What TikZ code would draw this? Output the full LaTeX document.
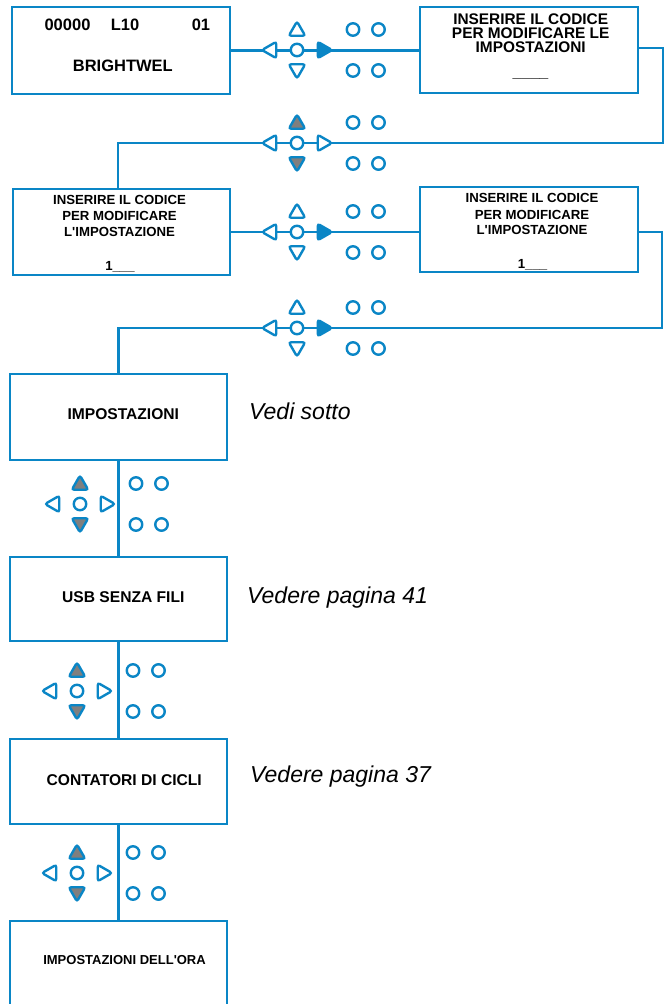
\documentclass[tikz,border=0pt]{standalone}
\usepackage{fontspec}
\setmainfont{Liberation Sans}[Ligatures=TeXOff]
\usetikzlibrary{shapes.geometric}
\definecolor{kblue}{HTML}{0A86C6}
\definecolor{kgray}{HTML}{7F7F7F}
\tikzset{
  box/.style={draw=kblue, line width=2.7pt, rectangle, inner sep=0pt, fill=white},
  wire/.style={draw=kblue, line width=2.8pt},
  keyc/.style={draw=kblue, line width=2.4pt, circle, minimum size=12.5pt, inner sep=0pt, fill=white},
  keytri/.style={draw=kblue, line width=2.4pt, regular polygon, regular polygon sides=3,
     minimum size=19pt, inner sep=0pt, rounded corners=2.5pt},
  txt/.style={inner sep=0pt, anchor=base, text=black},
  big/.style={txt, font=\bfseries\fontsize{16.5}{16.5}\selectfont},
  mid/.style={inner sep=0pt, anchor=north, text=black, align=center, font=\bfseries\fontsize{15.4}{13.9}\selectfont},
  midl/.style={txt, font=\bfseries\fontsize{16}{14}\selectfont},
  sml/.style={txt, font=\bfseries\fontsize{13.2}{16}\selectfont},
  lab/.style={txt, font=\bfseries\fontsize{15.6}{16}\selectfont},
  tiny/.style={txt, font=\bfseries\fontsize{13}{16}\selectfont},
  note/.style={inner sep=0pt, anchor=base west, text=black, font=\itshape\fontsize{23}{24}\selectfont},
  pics/keypad/.style n args={3}{code={
    \node[keytri, shape border rotate=0, fill=#1] (-up) at (0,-19) {};
    \node[keytri, shape border rotate=180, fill=#1] (-dn) at (0,19) {};
    \node[keytri, shape border rotate=90, fill=#2] (-lt) at (-25.5,0) {};
    \node[keytri, shape border rotate=-90, fill=#3] (-rt) at (25.5,0) {};
    \node[keyc] (-c) at (0,0) {};
    \node[keyc] (-s1) at (56,-20.5) {};
    \node[keyc] (-s2) at (81.5,-20.5) {};
    \node[keyc] (-s3) at (56,20.5) {};
    \node[keyc] (-s4) at (81.5,20.5) {};
  }}
}
\begin{document}
\begin{tikzpicture}[x=1pt, y=-1pt]
\useasboundingbox (0,0) rectangle (667,1004);
\clip (0,0) rectangle (667,1004);
% boxes
\node[box, minimum width=218pt, minimum height=87pt] (b1) at (121,50.5) {};
\node[box, minimum width=218pt, minimum height=86pt] (b2) at (529,50) {};
\node[box, minimum width=217pt, minimum height=86pt] (b3) at (121.5,232) {};
\node[box, minimum width=218pt, minimum height=85pt] (b4) at (529,229.5) {};
\node[box, minimum width=217pt, minimum height=86pt] (b5) at (118.5,417) {};
\node[box, minimum width=217pt, minimum height=84pt] (b6) at (118.5,599) {};
\node[box, minimum width=217pt, minimum height=85pt] (b7) at (118.5,781.5) {};
\node[box, minimum width=217pt, minimum height=94pt] (b8) at (118.5,968) {};
% connector coordinates
\coordinate (r2) at (663,143);
\coordinate (j3) at (118,143);
\coordinate (r4) at (662,328);
\coordinate (j5) at (118.5,328);
% connectors
\draw[wire] (b1.east) -- (b1.east -| b2.west);
\draw[wire] ([yshift=2pt]b2.east) -| (r2) -- (j3) -- (j3 |- b3.north);
\draw[wire] (b3.east) -- (b3.east -| b4.west);
\draw[wire] ([yshift=-2.5pt]b4.east) -| (r4) -- (j5) -- (b5.north);
\draw[wire] (b5.south) -- (b6.north);
\draw[wire] (b6.south) -- (b7.north);
\draw[wire] (b7.south) -- (b8.north);
% keypads
\pic (k1) at (297,50) {keypad={white}{white}{kblue}};
\pic (k2) at (297,143) {keypad={kgray}{white}{white}};
\pic (k3) at (297,232) {keypad={white}{white}{kblue}};
\pic (k4) at (297,328) {keypad={white}{white}{kblue}};
\pic (k5) at (80,504) {keypad={kgray}{white}{white}};
\pic (k6) at (77,691) {keypad={kgray}{white}{white}};
\pic (k7) at (77,873) {keypad={kgray}{white}{white}};
% texts box 1
\node[big] (t1a) at (67.5,30.7) {00000};
\node[big] (t1b) at (125,30.7) {L10};
\node[big] (t1c) at (201,30.7) {01};
\node[big] (t1d) at (122.8,71.7) {BRIGHTWEL};
% box 2
\node[mid] (t2a) at (530.7,14) {INSERIRE IL CODICE\\PER MODIFICARE LE\\IMPOSTAZIONI};
\node[midl] (t2d) at (530.5,77.5) {\_\_\_\_};
% box 3
\node[sml] (t3a) at (119.5,204.3) {INSERIRE IL CODICE};
\node[sml] (t3b) at (119.5,220.7) {PER MODIFICARE};
\node[sml] (t3c) at (119.5,236.7) {L'IMPOSTAZIONE};
\node[sml] (t3d) at (120,270.7) {1\_\_\_};
% box 4
\node[sml] (t4a) at (532,202.3) {INSERIRE IL CODICE};
\node[sml] (t4b) at (532,219) {PER MODIFICARE};
\node[sml] (t4c) at (532,234.7) {L'IMPOSTAZIONE};
\node[sml] (t4d) at (532.5,268.3) {1\_\_\_};
% lower boxes
\node[lab] (t5) at (123.3,419.3) {IMPOSTAZIONI};
\node[lab] (t6) at (123.3,602.7) {USB SENZA FILI};
\node[lab] (t7) at (124.2,785) {CONTATORI DI CICLI};
\node[tiny] (t8) at (124.5,964) {IMPOSTAZIONI DELL'ORA};
% notes
\node[note] (n5) at (249,419.3) {Vedi sotto};
\node[note] (n6) at (247,603) {Vedere pagina 41};
\node[note] (n7) at (250,782.7) {Vedere pagina 37};
\end{tikzpicture}
\end{document}
